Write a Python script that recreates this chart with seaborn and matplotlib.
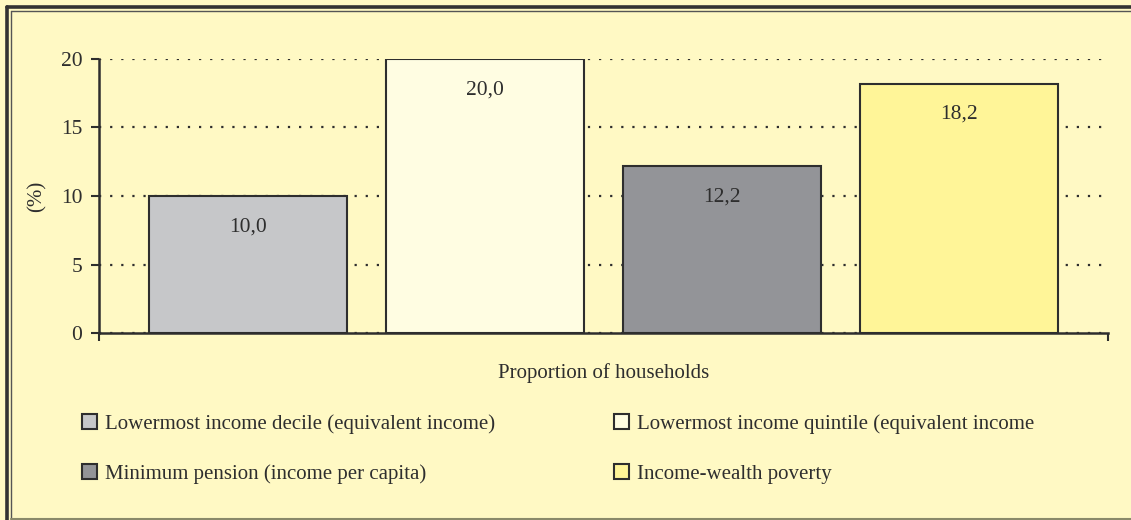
import pandas as pd
import numpy as np
import matplotlib
matplotlib.use("Agg")
import matplotlib.pyplot as plt
from matplotlib.lines import Line2D
import seaborn as sns

# data
category = ["Proportion of households"]
series = [
    "Lowermost income decile (equivalent income)",
    "Lowermost income quintile (equivalent income",
    "Minimum pension (income per capita)",
    "Income-wealth poverty",
]
values = [10.0, 20.0, 12.2, 18.2]
colors = ["#c6c7c9", "#fffde2", "#939498", "#fff598"]
yticks = [0, 5, 10, 15, 20]

bg = "#fff9c4"
ink = "#2e2e2e"

sns.set_theme(style="white")
plt.rcParams["font.family"] = ["Liberation Serif", "DejaVu Serif"]
plt.rcParams["text.color"] = ink
plt.rcParams["axes.labelcolor"] = ink
plt.rcParams["xtick.color"] = ink
plt.rcParams["ytick.color"] = ink

df = pd.DataFrame({"cat": category * len(series), "series": series, "value": values})

fig = plt.figure(figsize=(11.31, 5.2), dpi=100, facecolor=bg)
ax = fig.add_axes([99 / 1131, 1 - 333 / 520, (1108 - 99) / 1131, (333 - 59) / 520])
ax.set_facecolor(bg)

sns.barplot(data=df, x="cat", y="value", hue="series", hue_order=series,
            palette=colors, width=0.94, gap=0.165, edgecolor=ink, linewidth=1.5,
            saturation=1, ax=ax, zorder=3)

handles, labels = ax.get_legend_handles_labels()
if ax.get_legend() is not None:
    ax.get_legend().remove()

# value labels inside the bar top
for cont, v in zip(ax.containers, values):
    ax.bar_label(cont, labels=[f"{v:.1f}".replace(".", ",")], padding=-29,
                 fontsize=15.5, color=ink)

ax.set_xlim(-0.5, 0.5)
ax.set_ylim(0, 20)
ax.set_yticks(yticks)
ax.set_yticklabels([str(t) for t in yticks], fontsize=15.5)
ax.set_xticks([-0.5, 0.5])
ax.set_xticklabels(["", ""])
ax.tick_params(axis="y", direction="out", length=6, width=1.5, left=True, pad=6)
ax.tick_params(axis="x", direction="out", length=6, width=1.5, bottom=True)

ax.yaxis.grid(True, linestyle=(0, (1, 4)), linewidth=1.6, color=ink, zorder=0)
ax.set_axisbelow(True)
for s in ["top", "right"]:
    ax.spines[s].set_visible(False)
for s in ["left", "bottom"]:
    ax.spines[s].set_color(ink)
    ax.spines[s].set_linewidth(1.8)

ax.set_xlabel("Proportion of households", fontsize=15, labelpad=12)
ax.set_ylabel("(%)", fontsize=15, labelpad=10)

# legend in two columns, drawn as two separate legends
leg_kw = dict(frameon=False, fontsize=15, handlelength=0.7, handleheight=0.7,
              handletextpad=0.4, labelspacing=1.45, borderpad=0, borderaxespad=0,
              loc="upper left")
leg1 = fig.legend([handles[0], handles[2]], [labels[0], labels[2]],
                  bbox_to_anchor=(82 / 1131, 1 - 414 / 520), **leg_kw)
leg2 = fig.legend([handles[1], handles[3]], [labels[1], labels[3]],
                  bbox_to_anchor=(614 / 1131, 1 - 414 / 520), **leg_kw)
for leg in (leg1, leg2):
    for h in leg.legend_handles:
        h.set_edgecolor(ink)
        h.set_linewidth(1.5)

# frame around the picture
W, H = 1131, 520
def px_line(x0, y0, x1, y1, lw, c):
    fig.add_artist(Line2D([x0 / W, x1 / W], [1 - y0 / H, 1 - y1 / H],
                          transform=fig.transFigure, lw=lw, color=c))

px_line(6.5, 6.5, W, 6.5, 2.6, "#333333")
px_line(6.5, 6.5, 6.5, H, 2.6, "#333333")
px_line(10.5, 10.5, W, 10.5, 1.0, "#555555")
px_line(10.5, 10.5, 10.5, H, 1.0, "#555555")
px_line(10.5, H - 1, W, H - 1, 1.5, "#8a8a6a")

fig.savefig("out.png", dpi=100, facecolor=bg)
